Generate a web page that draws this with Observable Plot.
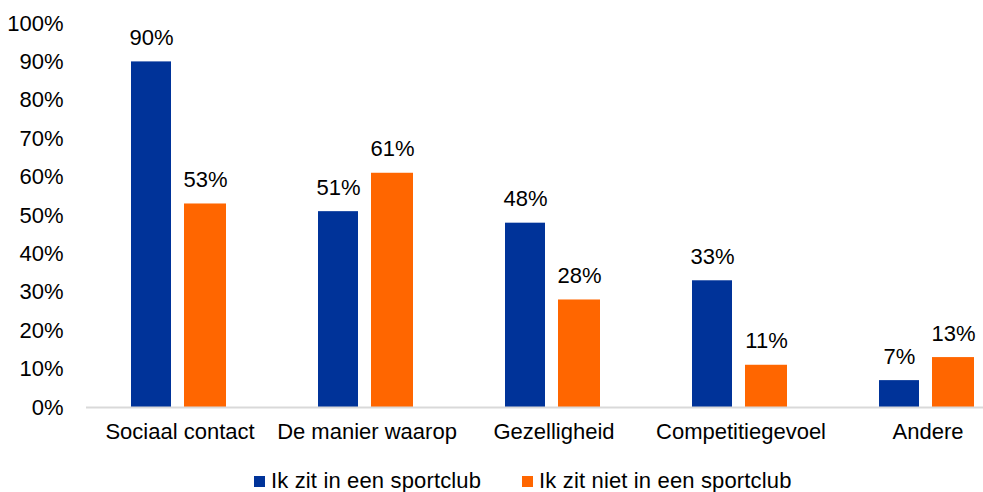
<!DOCTYPE html>
<html>
<head>
<meta charset="utf-8">
<script src="https://cdn.jsdelivr.net/npm/d3@7"></script>
<script src="https://cdn.jsdelivr.net/npm/@observablehq/plot@0.6"></script>
<style>
  body { margin: 0; background: #fff; font-family: "Liberation Sans", Arial, sans-serif; }
  #chart { position: relative; width: 983px; height: 492px; overflow: hidden; }
  #legend { position: absolute; left: 254px; top: 467px; display: flex; font-size: 22px; line-height: 28px; color: #000; letter-spacing: 0.15px; }
  .item { display: flex; align-items: center; margin-right: 41px; }
  .sw { width: 11px; height: 11px; margin-right: 6px; }
</style>
</head>
<body>
<div id="chart"></div>
<script>
const categories = ["Sociaal contact", "De manier waarop", "Gezelligheid", "Competitiegevoel", "Andere"];
const series = ["Ik zit in een sportclub", "Ik zit niet in een sportclub"];
const inClub = [90, 51, 48, 33, 7];
const notInClub = [53, 61, 28, 11, 13];
const yTicks = [0, 10, 20, 30, 40, 50, 60, 70, 80, 90, 100];
const colors = ["#003399", "#ff6600"];

const dataA = categories.map((c, i) => ({category: c, value: inClub[i]}));
const dataB = categories.map((c, i) => ({category: c, value: notInClub[i]}));

const plot = Plot.plot({
  width: 983,
  height: 455,
  marginLeft: 86,
  marginRight: 0,
  marginTop: 23,
  marginBottom: 48,
  style: {fontFamily: "'Liberation Sans', Arial, sans-serif", fontSize: "22px", color: "#000", background: "#fff", overflow: "visible"},
  x: {domain: categories, range: [86, 1021], padding: 0, label: null},
  y: {domain: [0, 100], label: null},
  marks: [
    Plot.axisY({ticks: yTicks, tickSize: 0, tickPadding: 23, tickFormat: d => d + "%", fontSize: 22, label: null}),
    Plot.axisX({tickSize: 0, tickPadding: 16, fontSize: 22, label: null}),
    Plot.barY(dataA, {x: "category", y: "value", fill: colors[0], insetLeft: 45, insetRight: 102}),
    Plot.barY(dataB, {x: "category", y: "value", fill: colors[1], insetLeft: 98, insetRight: 47}),
    Plot.ruleY([0], {stroke: "#d9d9d9", strokeWidth: 2}),
    Plot.text(dataA, {x: "category", y: "value", text: d => d.value + "%", dx: -28.5, dy: -24, fontSize: 22, fill: "#000"}),
    Plot.text(dataB, {x: "category", y: "value", text: d => d.value + "%", dx: 25.5, dy: -24, fontSize: 22, fill: "#000"})
  ]
});
document.getElementById("chart").appendChild(plot);

const legend = document.createElement("div");
legend.id = "legend";
series.forEach((s, i) => {
  const it = document.createElement("div");
  it.className = "item";
  const sw = document.createElement("div");
  sw.className = "sw";
  sw.style.background = colors[i];
  const t = document.createElement("span");
  t.textContent = s;
  it.appendChild(sw); it.appendChild(t);
  legend.appendChild(it);
});
document.getElementById("chart").appendChild(legend);
</script>
</body>
</html>
